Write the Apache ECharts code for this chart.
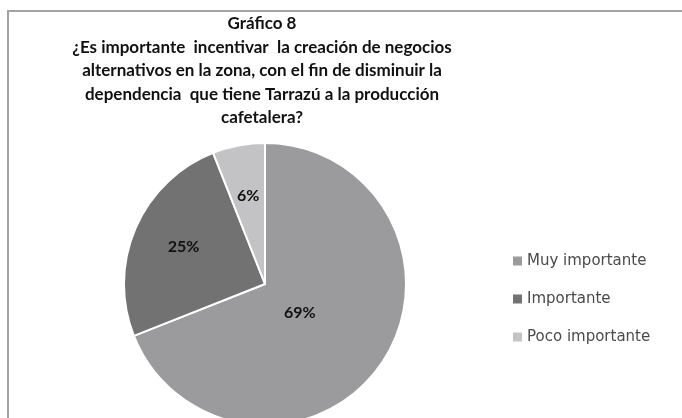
<!DOCTYPE html>
<html>
<head>
<meta charset="utf-8">
<script src="https://cdn.jsdelivr.net/npm/echarts@6/dist/echarts.min.js"></script>
<style>
  html, body { margin: 0; padding: 0; background: #fff; }
  #chart { width: 682px; height: 418px; }
</style>
</head>
<body>
<div id="chart"></div>
<script>
const TITLE_LINES = [
  'Gráfico 8',
  '¿Es importante  incentivar  la creación de negocios',
  'alternativos en la zona, con el fin de disminuir la',
  'dependencia  que tiene Tarrazú a la producción',
  'cafetalera?',
];
const categories = ['Muy importante', 'Importante', 'Poco importante'];
const values = [69, 25, 6];

const COLORS = {
  muy:    '#9b9b9e',
  imp:    '#727272',
  poco:   '#c3c3c5',
  frame:  '#a3a3a3',
  text:   '#111111',
  legend: '#4a4a4a',
};
const SLICE_COLORS = [COLORS.muy, COLORS.imp, COLORS.poco];
// nudges to match where Excel put the data labels
const LABEL_OFFSETS = [[-26, -12], [-14, -8], [-3, -16]];

const chart = echarts.init(document.getElementById('chart'), null, { renderer: 'canvas' });

chart.setOption({
  backgroundColor: '#fff',
  animation: false,
  color: SLICE_COLORS,
  graphic: [
    {
      type: 'rect',
      shape: { x: 8, y: 11, width: 700, height: 500 },
      style: { fill: 'none', stroke: COLORS.frame, lineWidth: 2 },
      silent: true,
    },
  ],
  title: {
    text: TITLE_LINES.join('\n'),
    left: 257,
    top: 7,
    textAlign: 'center',
    textStyle: {
      fontFamily: 'Lato',
      fontSize: 17,
      fontWeight: 'bold',
      color: COLORS.text,
      lineHeight: 23.5,
    },
  },
  legend: {
    orient: 'vertical',
    left: 508,
    top: 248,
    itemGap: 22,
    itemWidth: 9,
    itemHeight: 9,
    itemStyle: { borderWidth: 0 },
    icon: 'rect',
    data: categories,
    textStyle: { fontFamily: 'DejaVu Sans', fontSize: 15, lineHeight: 16, color: COLORS.legend },
  },
  series: [
    {
      type: 'pie',
      center: [265, 284],
      radius: 141,
      startAngle: 90,
      clockwise: true,
      label: {
        position: 'inside',
        formatter: '{d}%',
        fontFamily: 'Lato',
        fontSize: 16,
        fontWeight: 'bold',
        color: COLORS.text,
      },
      labelLine: { show: false },
      itemStyle: { borderColor: '#fff', borderWidth: 2 },
      data: categories.map((name, i) => ({
        name,
        value: values[i],
        label: { offset: LABEL_OFFSETS[i] },
      })),
    },
  ],
});
</script>
</body>
</html>
